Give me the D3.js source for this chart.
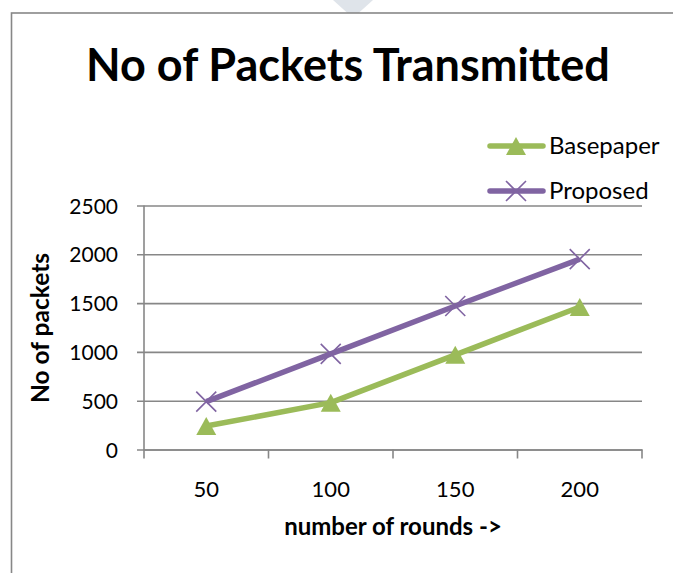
<!DOCTYPE html>
<html>
<head>
<meta charset="utf-8">
<script src="https://cdn.jsdelivr.net/npm/d3@7/dist/d3.min.js"></script>
<style>
  html, body { margin: 0; padding: 0; background: #fff; }
  svg { display: block; }
  text { font-family: Lato, "Open Sans", sans-serif; fill: #000; }
</style>
</head>
<body>
<svg id="chart" width="673" height="573"></svg>
<script>
// Rounds on the x axis and packets transmitted per series
const rounds = [50, 100, 150, 200];
const basepaper = [240, 480, 970, 1460];
const proposed = [490, 980, 1470, 1950];
const yTicks = [0, 500, 1000, 1500, 2000, 2500];

const seriesNames = ["Basepaper", "Proposed"];
const seriesColors = ["#9BBB59", "#8064A2"];
const gridColor = "#878787";

const svg = d3.select("#chart");

// Small page decoration above the chart frame
svg.append("path")
  .attr("d", "M333,0 L373,0 L353,18 Z")
  .attr("fill", "#dfe4ea");

// Chart frame (continues past the right and bottom edges)
svg.append("rect")
  .attr("x", 11.5).attr("y", 13)
  .attr("width", 720).attr("height", 620)
  .attr("fill", "#fff")
  .attr("stroke", gridColor).attr("stroke-width", 1.6);

const x = d3.scaleBand().domain(rounds).range([144, 642]).padding(0);
const y = d3.scaleLinear().domain([0, 2500]).range([449.5, 205.5]);

// Horizontal gridlines + y tick labels
const yAxis = d3.axisLeft(y)
  .tickValues(yTicks)
  .tickSize(-(642 - 137))
  .tickPadding(0)
  .tickFormat(d3.format("d"));
const gy = svg.append("g").attr("transform", "translate(137,0)").call(yAxis);
gy.select(".domain").remove();
gy.selectAll(".tick line").attr("stroke", gridColor).attr("stroke-width", 1.6);
gy.selectAll(".tick text")
  .attr("x", -19)
  .attr("dy", "0.36em")
  .attr("text-anchor", "end")
  .style("font-size", "21px")
  .style("font-family", "Lato, sans-serif");

// Vertical axis line
svg.append("line")
  .attr("x1", 144).attr("x2", 144)
  .attr("y1", y(2500)).attr("y2", y(0) + 0.8)
  .attr("stroke", gridColor).attr("stroke-width", 1.6);

// Category axis: tick marks on band boundaries
const boundaries = rounds.map(r => x(r)).concat([x(rounds[rounds.length - 1]) + x.bandwidth()]);
svg.append("g").selectAll("line")
  .data(boundaries)
  .join("line")
  .attr("x1", d => d).attr("x2", d => d)
  .attr("y1", y(0)).attr("y2", y(0) + 9)
  .attr("stroke", gridColor).attr("stroke-width", 1.6);

// Category labels centred in each band
const xAxis = d3.axisBottom(x).tickSize(0).tickPadding(0);
const gx = svg.append("g").attr("transform", `translate(0,${y(0)})`).call(xAxis);
gx.select(".domain").attr("stroke", gridColor).attr("stroke-width", 1.6);
gx.selectAll(".tick text")
  .attr("y", 47)
  .attr("dy", 0)
  .style("font-size", "22px")
  .style("font-family", "Lato, sans-serif");

// Title and axis titles
svg.append("text")
  .attr("x", 348).attr("y", 81)
  .attr("text-anchor", "middle")
  .style("font-size", "45px").style("font-weight", "700")
  .text("No of Packets Transmitted");

svg.append("text")
  .attr("transform", "translate(49,328) rotate(-90)")
  .attr("text-anchor", "middle")
  .style("font-size", "24.5px").style("font-weight", "700")
  .text("No of packets");

svg.append("text")
  .attr("x", 393).attr("y", 535)
  .attr("text-anchor", "middle")
  .style("font-size", "24px").style("font-weight", "700")
  .text("number of rounds ->");

// Series lines and markers
const series = [basepaper, proposed];
const line = d3.line()
  .x((d, i) => x(rounds[i]) + x.bandwidth() / 2)
  .y(d => y(d));

const triangle = (cx, cy) => `M${cx},${cy - 9} L${cx + 10},${cy + 9} L${cx - 10},${cy + 9} Z`;
const cross = (cx, cy) => `M${cx - 10},${cy - 10} L${cx + 10},${cy + 10} M${cx + 10},${cy - 10} L${cx - 10},${cy + 10}`;

series.forEach((vals, s) => {
  svg.append("path")
    .datum(vals)
    .attr("d", line)
    .attr("fill", "none")
    .attr("stroke", seriesColors[s])
    .attr("stroke-width", 5.5)
    .attr("stroke-linejoin", "round");

  const g = svg.append("g");
  vals.forEach((v, i) => {
    const cx = x(rounds[i]) + x.bandwidth() / 2;
    const cy = y(v);
    if (s === 0) {
      g.append("path").attr("d", triangle(cx, cy)).attr("fill", seriesColors[s]);
    } else {
      g.append("path").attr("d", cross(cx, cy))
        .attr("stroke", seriesColors[s]).attr("stroke-width", 1.6).attr("fill", "none");
    }
  });
});

// Legend
const legendY = [146, 191];
seriesNames.forEach((name, s) => {
  const ly = legendY[s];
  svg.append("line")
    .attr("x1", 490).attr("x2", 543)
    .attr("y1", ly).attr("y2", ly)
    .attr("stroke", seriesColors[s]).attr("stroke-width", 5.5)
    .attr("stroke-linecap", "round");
  if (s === 0) {
    svg.append("path").attr("d", triangle(516, ly)).attr("fill", seriesColors[s]);
  } else {
    svg.append("path").attr("d", cross(516, ly))
      .attr("stroke", seriesColors[s]).attr("stroke-width", 1.6).attr("fill", "none");
  }
  svg.append("text")
    .attr("x", 549).attr("y", ly + 8)
    .style("font-size", "24px")
    .text(name);
});
</script>
</body>
</html>
